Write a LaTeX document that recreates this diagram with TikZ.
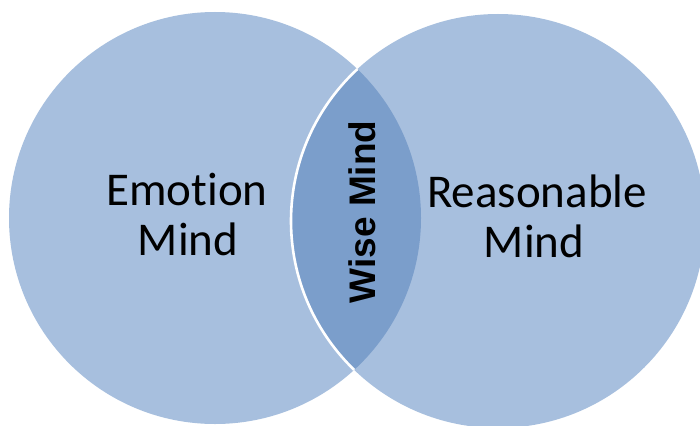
\documentclass[tikz,border=0pt]{standalone}
\usepackage{fontspec}
\newfontfamily\calib[Ligatures=NoCommon]{Carlito}
\newfontfamily\arialb{Liberation Sans Bold}
\definecolor{lightblue}{HTML}{A7BFDE}
\definecolor{darkblue}{HTML}{7B9ECB}
\begin{document}
\begin{tikzpicture}[x=1pt,y=-1pt,
  setfill/.style={fill=lightblue,draw=none},
  setlabel/.style={font=\calib\fontsize{47}{50}\selectfont,text=black,inner sep=0pt,anchor=base},
  wiselabel/.style={font=\arialb\fontsize{37}{40}\selectfont,text=black,inner sep=0pt,rotate=90,anchor=center}]
\useasboundingbox (0,0) rectangle (700,425);
\fill[white] (0,0) rectangle (700,425);
% left set
\path[setfill] (215,218) circle[radius=206pt];
% right set
\path[setfill] (498,221) circle[radius=207pt];
% overlap
\begin{scope}
  \clip (215,218) circle[radius=206pt];
  \fill[darkblue] (498,221) circle[radius=207pt];
\end{scope}
% white border of right set
\begin{scope}
  \clip (215,218) circle[radius=206pt];
  \draw[white,line width=2.6pt] (498,221) circle[radius=207pt];
\end{scope}
% labels
\node[setlabel] (emo1) at (187,205) {Emotion};
\node[setlabel] (emo2) at (188,255) {Mind};
\node[setlabel] (rea1) at (537,207) {Reasonable};
\node[setlabel] (rea2) at (534,257) {Mind};
\node[wiselabel] (wise) at (362,212) {Wise Mind};
\end{tikzpicture}
\end{document}
